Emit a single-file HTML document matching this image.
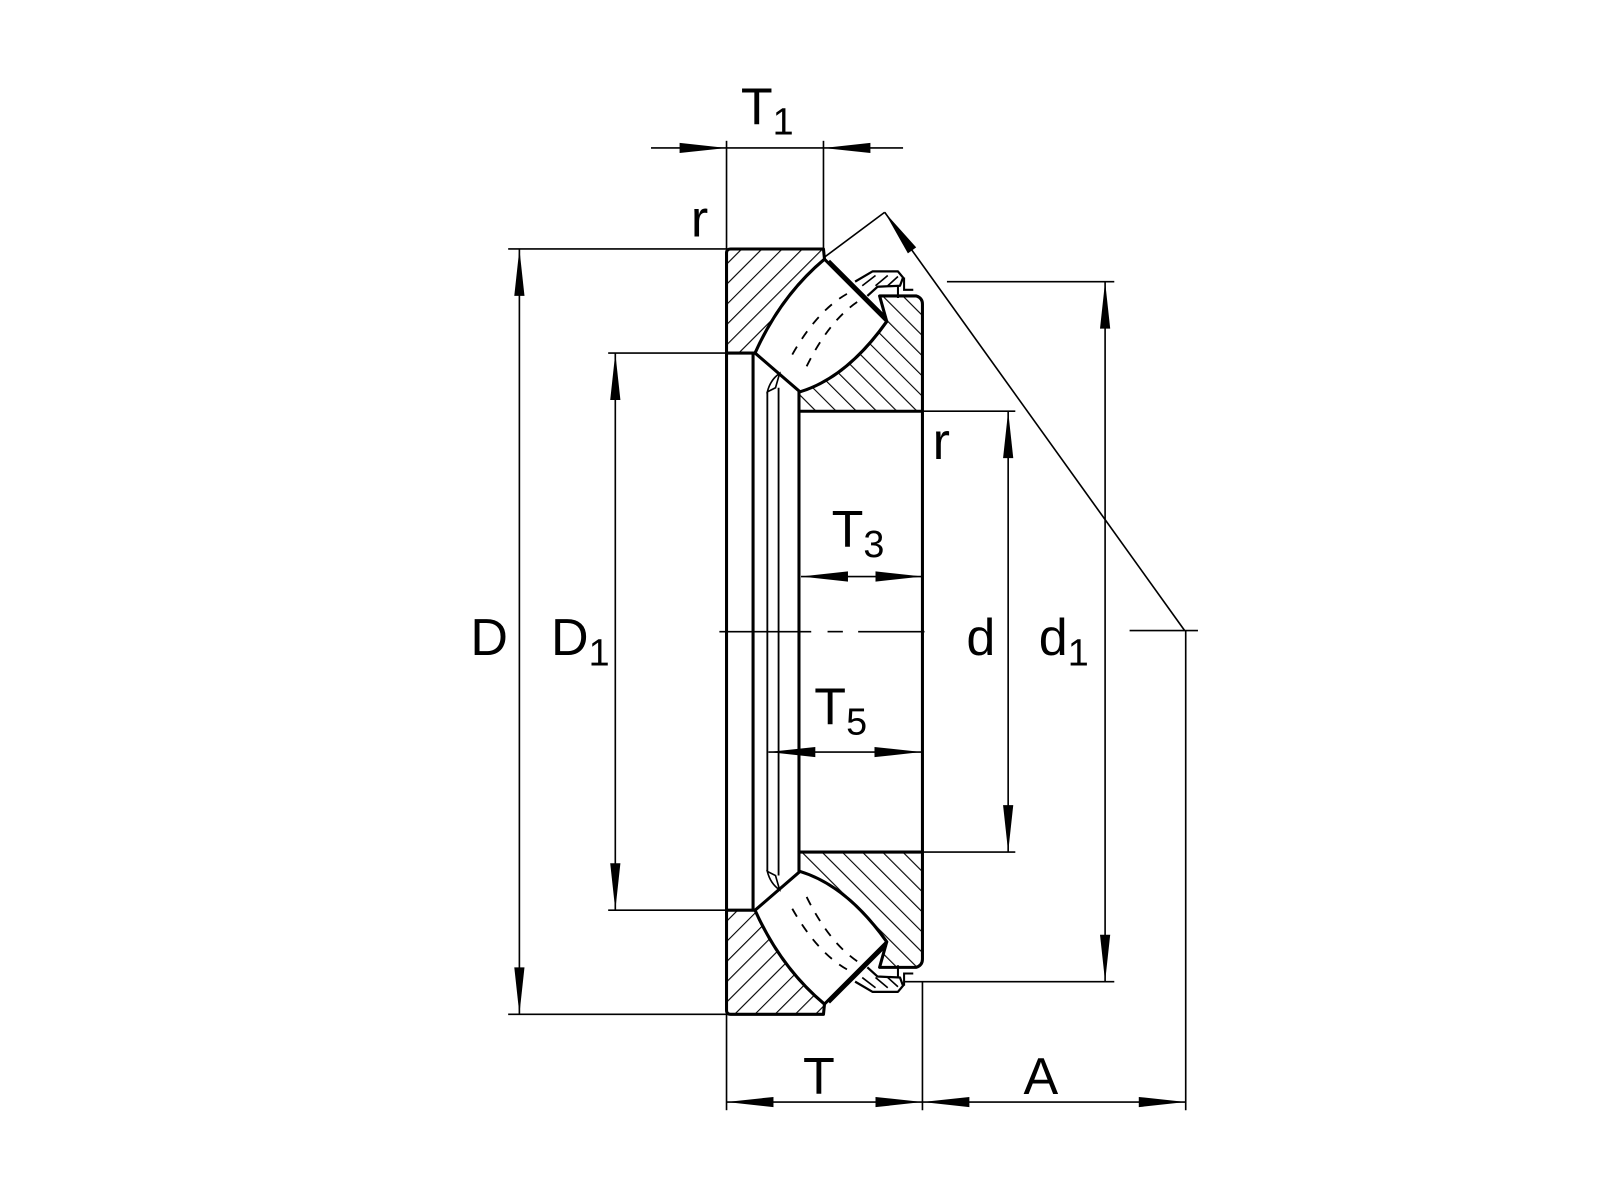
<!DOCTYPE html>
<html><head><meta charset="utf-8"><style>html,body{margin:0;padding:0;background:#fff}svg{display:block}</style></head>
<body>
<svg width="1600" height="1200" viewBox="0 0 1568 1176" xmlns="http://www.w3.org/2000/svg" font-family="Liberation Sans, Arial, sans-serif">
<defs>
<marker id="ar" viewBox="-1 -6 48 12" refX="46" refY="0" markerWidth="48" markerHeight="12" markerUnits="userSpaceOnUse" orient="auto-start-reverse">
<path d="M0,-5 L46,0 L0,5 z" fill="#000"/>
</marker>
<pattern id="hA" patternUnits="userSpaceOnUse" width="14" height="14" patternTransform="rotate(45)">
<line x1="0" y1="0" x2="0" y2="14" stroke="#000" stroke-width="2.2"/></pattern>
<pattern id="hB" patternUnits="userSpaceOnUse" width="14" height="14" patternTransform="rotate(-45)">
<line x1="0" y1="0" x2="0" y2="14" stroke="#000" stroke-width="2.2"/></pattern>
<g id="half">
  <path d="M712,248 Q712,244 716,244 L807,244 L808,254 Q765,290 740,346 L712,346 Z" fill="none" stroke="#000" stroke-width="3" stroke-linejoin="round"/>
  <path d="M783,403 L783,384 Q830,370 869,315 L862,290 L898,290 Q904,292 904,298 L904,403 Z" fill="none" stroke="#000" stroke-width="3" stroke-linejoin="round"/>
  <path d="M808,254 L869,315 Q830,370 784,384 L740,346 Q765,290 808,254 Z" fill="#fff" stroke="#000" stroke-width="3" stroke-linejoin="round"/>
  <line x1="812" y1="256" x2="868" y2="312" stroke="#000" stroke-width="4"/>
  <path d="M830,288 Q800,305 775,350" fill="none" stroke="#000" stroke-width="1.8" stroke-dasharray="9,9"/>
  <path d="M840,296 Q812,315 790,360" fill="none" stroke="#000" stroke-width="1.8" stroke-dasharray="9,9"/>
  <path d="M838,276 L855,266 L880,266 L885,272 L882,280 L860,281 L850,290" fill="#fff" stroke="#000" stroke-width="2.2" stroke-linejoin="round"/>
  <path d="M845,280 L858,270 M858,280 L870,270 M870,280 L880,271" stroke="#000" stroke-width="1.6"/>
  <path d="M880,280 L880,292 M886,272 L886,284 L895,284" fill="none" stroke="#000" stroke-width="2"/>
  <path d="M752,384 Q755,372 764,366 L760,380 Z" fill="#fff" stroke="#000" stroke-width="1.6"/>
  <line x1="738" y1="346" x2="738" y2="619" stroke="#000" stroke-width="3"/>
  <line x1="752" y1="384" x2="752" y2="619" stroke="#000" stroke-width="1.8"/>
  <line x1="763" y1="380" x2="763" y2="619" stroke="#000" stroke-width="1.8"/>
  <line x1="783" y1="403" x2="783" y2="619" stroke="#000" stroke-width="3"/>
  <line x1="904" y1="403" x2="904" y2="619" stroke="#000" stroke-width="3"/>
  <line x1="712" y1="346" x2="712" y2="619" stroke="#000" stroke-width="3"/>
</g>
</defs>

<rect width="1568" height="1176" fill="#fff"/>

<g>
  <path d="M712,248 Q712,244 716,244 L807,244 L808,254 Q765,290 740,346 L712,346 Z" fill="url(#hA)"/>
  <path d="M783,403 L783,384 Q830,370 869,315 L862,290 L898,290 Q904,292 904,298 L904,403 Z" fill="url(#hB)"/>
</g>
<g transform="matrix(1,0,0,-1,0,1238)">
  <path d="M712,248 Q712,244 716,244 L807,244 L808,254 Q765,290 740,346 L712,346 Z" fill="url(#hB)"/>
  <path d="M783,403 L783,384 Q830,370 869,315 L862,290 L898,290 Q904,292 904,298 L904,403 Z" fill="url(#hA)"/>
</g>
<use href="#half"/>
<g transform="matrix(1,0,0,-1,0,1238)"><use href="#half"/></g>

<g stroke="#000" stroke-width="1.6">
  <line x1="705" y1="619" x2="795" y2="619"/>
  <line x1="811" y1="619" x2="826" y2="619"/>
  <line x1="841" y1="619" x2="906" y2="619"/>
  <line x1="1107" y1="618" x2="1174" y2="618"/>
</g>

<g stroke="#000" stroke-width="1.6" fill="none">
  <line x1="712" y1="138" x2="712" y2="244"/>
  <line x1="807" y1="138" x2="807" y2="244"/>
  <line x1="638" y1="145" x2="712" y2="145" marker-end="url(#ar)"/>
  <line x1="712" y1="145" x2="807" y2="145"/>
  <line x1="885" y1="145" x2="807" y2="145" marker-end="url(#ar)"/>
  <line x1="498" y1="244" x2="712" y2="244"/>
  <line x1="498" y1="994" x2="712" y2="994"/>
  <line x1="509" y1="244" x2="509" y2="994" marker-start="url(#ar)" marker-end="url(#ar)"/>
  <line x1="596" y1="346" x2="712" y2="346"/>
  <line x1="596" y1="892" x2="712" y2="892"/>
  <line x1="603" y1="346" x2="603" y2="892" marker-start="url(#ar)" marker-end="url(#ar)"/>
  <line x1="904" y1="403" x2="995" y2="403"/>
  <line x1="904" y1="835" x2="995" y2="835"/>
  <line x1="988" y1="403" x2="988" y2="835" marker-start="url(#ar)" marker-end="url(#ar)"/>
  <line x1="928" y1="276" x2="1092" y2="276"/>
  <line x1="886" y1="962" x2="1092" y2="962"/>
  <line x1="1083" y1="276" x2="1083" y2="962" marker-start="url(#ar)" marker-end="url(#ar)"/>
  <line x1="785" y1="565" x2="904" y2="565" marker-start="url(#ar)" marker-end="url(#ar)"/>
  <line x1="753" y1="737" x2="903" y2="737" marker-start="url(#ar)" marker-end="url(#ar)"/>
  <line x1="712" y1="994" x2="712" y2="1088"/>
  <line x1="904" y1="962" x2="904" y2="1088"/>
  <line x1="1162" y1="618" x2="1162" y2="1088"/>
  <line x1="712" y1="1080" x2="904" y2="1080" marker-start="url(#ar)" marker-end="url(#ar)"/>
  <line x1="904" y1="1080" x2="1162" y2="1080" marker-start="url(#ar)" marker-end="url(#ar)"/>
  <line x1="1161" y1="618" x2="867" y2="208" marker-end="url(#ar)"/>
  <line x1="867" y1="208" x2="808" y2="252"/>
</g>

<g fill="#000" font-size="51">
  <text x="726" y="122">T<tspan font-size="37" dy="10">1</tspan></text>
  <text x="677" y="232">r</text>
  <text x="914" y="450">r</text>
  <text x="815" y="536">T<tspan font-size="37" dy="10">3</tspan></text>
  <text x="798" y="710">T<tspan font-size="37" dy="10">5</tspan></text>
  <text x="461" y="642">D</text>
  <text x="540" y="642">D<tspan font-size="37" dy="10">1</tspan></text>
  <text x="947" y="642">d</text>
  <text x="1018" y="642">d<tspan font-size="37" dy="10">1</tspan></text>
  <text x="787" y="1072">T</text>
  <text x="1003" y="1072">A</text>
</g>
</svg>
</body></html>
